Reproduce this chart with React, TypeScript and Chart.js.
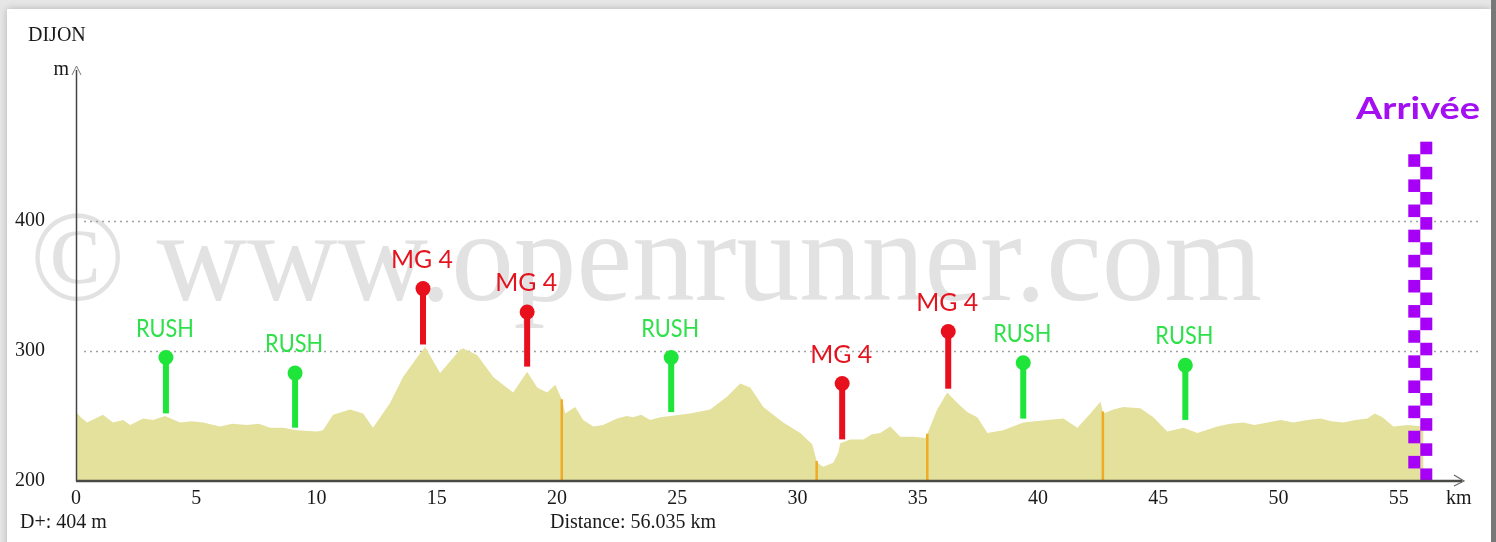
import React, { useEffect, useRef } from "react";
import { Chart, registerables } from "chart.js";
Chart.register(...registerables);

// ---- data ----
const distanceKm = [
  0, 0.2, 0.46, 0.8, 1.12, 1.54, 1.96, 2.25, 2.79, 3.2, 3.7, 4.33, 4.8, 5.28, 5.99, 6.5, 7.11, 7.6, 8.07, 8.6, 9.19, 10.02, 10.27,
  10.69, 11.4, 11.94, 12.35, 13.06, 13.6, 14.18, 14.52, 15.14, 15.97, 16.1, 16.68, 17.35, 17.76,
  18.18, 18.76, 19.18, 19.59, 19.93, 20.22, 20.34, 20.76, 21.09, 21.51, 21.92, 22.5, 22.9, 23.17, 23.5, 23.88,
  24.3, 24.71, 25.54, 26.37, 27.08, 27.62, 28.04, 28.58, 29.41, 30.12, 30.62, 30.82, 31.07, 31.49, 31.7,
  31.78, 32.2, 32.74, 33.1, 33.44, 33.86, 34.28, 34.82, 35.32, 35.44, 35.81, 36.23, 36.65, 37.06, 37.48,
  37.9, 38.56, 39.39, 40.39, 41.06, 41.64, 42.18, 42.6, 42.72, 43.14, 43.55, 44.26, 44.8, 45.38,
  46.05, 46.63, 47.46, 48.0, 48.54, 49.0, 49.54, 50.1, 50.62, 51.2, 51.75, 52.2, 52.7, 53.2, 53.7, 54.0, 54.33, 54.78, 55.37, 56.035,
];
const elevationM = [
  253, 249, 245, 248, 251, 245, 247, 243, 248, 247, 250, 245, 246, 245, 242, 244, 243, 244, 241, 241, 239, 238, 239,
  251, 255, 252, 241, 260, 280, 295, 303, 283, 301, 302, 297, 280, 274,
  268, 284, 272, 268, 274, 262, 252, 257, 247, 242, 243, 248, 250, 249, 251, 247,
  249, 250, 252, 255, 265, 275, 272, 257, 245, 237, 228, 214, 211, 214, 222,
  229, 232, 232, 236, 237, 242, 234, 234, 233, 238, 255, 268, 260, 253, 249,
  237, 239, 245, 247, 248, 241, 252, 261, 252, 255, 257, 256, 249, 238,
  241, 237, 242, 244, 245, 243, 245, 247, 245, 247, 248, 246, 245, 247, 248, 252, 249, 242, 243, 242,
];

const xTickValues = [0, 5, 10, 15, 20, 25, 30, 35, 40, 45, 50, 55];
const xTickLabels = ["0", "5", "10", "15", "20", "25", "30", "35", "40", "45", "50", "55"];
const yTickValues = [200, 300, 400];
const yTickLabels = ["200", "300", "400"];

const markerKm = [3.74, 9.11, 14.43, 18.76, 24.75, 31.86, 36.27, 39.39, 46.13];
const markerLabels = ["RUSH", "RUSH", "MG 4", "MG 4", "RUSH", "MG 4", "MG 4", "RUSH", "RUSH"];
const markerHeadM = [295, 283, 348, 330, 295, 275, 315, 291, 289];
const markerBaseM = [252, 241, 305, 288, 253, 232, 271, 248, 247];

const segmentKm = [20.2, 30.8, 35.4, 42.7];
const finishKm = 55.9;
const finishTopM = 461;
const finishLabel = "Arrivée";

const startLabel = "DIJON";
const yUnit = "m";
const xUnit = "km";
const climbText = "D+: 404 m";
const distanceText = "Distance: 56.035 km";
const watermark = "© www.openrunner.com";

// ---- helpers ----
function interp(km: number): number {
  for (let i = 1; i < distanceKm.length; i++) {
    if (km <= distanceKm[i]) {
      const t = (km - distanceKm[i - 1]) / (distanceKm[i] - distanceKm[i - 1]);
      return elevationM[i - 1] + t * (elevationM[i] - elevationM[i - 1]);
    }
  }
  return elevationM[elevationM.length - 1];
}

function fitText(ctx: CanvasRenderingContext2D, text: string, cx: number, baseline: number, width: number) {
  const w = ctx.measureText(text).width;
  const s = width / w;
  ctx.save();
  ctx.translate(cx, baseline);
  ctx.scale(s, 1);
  ctx.textAlign = "center";
  ctx.textBaseline = "alphabetic";
  ctx.fillText(text, 0, 0);
  ctx.restore();
}

const SERIF = "'Liberation Serif', 'DejaVu Serif', serif";

const decorPlugin = {
  id: "decor",
  beforeDraw(chart: any) {
    const { ctx, width, height } = chart;
    ctx.save();
    ctx.fillStyle = "#e6e6e6";
    ctx.fillRect(0, 0, width, height);
    ctx.shadowColor = "rgba(0,0,0,0.22)";
    ctx.shadowBlur = 7;
    ctx.fillStyle = "#ffffff";
    ctx.fillRect(7, 9, 1484, 560);
    ctx.shadowBlur = 0;
    ctx.fillStyle = "#787878";
    ctx.fillRect(1491, 0, 5, height);
    ctx.restore();
  },
  beforeDatasetsDraw(chart: any) {
    const { ctx } = chart;
    const y = chart.scales.y;
    ctx.save();
    ctx.fillStyle = "#e2e2e2";
    ctx.font = `130px ${SERIF}`;
    const w = ctx.measureText(watermark).width;
    ctx.translate(30, 300);
    ctx.scale(1232 / w, 1);
    ctx.textAlign = "left";
    ctx.fillText(watermark, 0, 0);
    ctx.restore();
    ctx.save();
    ctx.strokeStyle = "#a0a0a0";
    ctx.lineWidth = 1.5;
    ctx.setLineDash([2, 4]);
    yTickValues.forEach((v) => {
      if (v === yTickValues[0]) return;
      const py = Math.round(y.getPixelForValue(v)) + 0.5;
      ctx.beginPath();
      ctx.moveTo(84, py);
      ctx.lineTo(1478, py);
      ctx.stroke();
    });
    ctx.restore();
  },
  afterDatasetsDraw(chart: any) {
    const { ctx, chartArea } = chart;
    const x = chart.scales.x;
    const y = chart.scales.y;
    const bottom = y.getPixelForValue(200);
    const left = chartArea.left;

    ctx.save();
    ctx.strokeStyle = "rgba(240,165,25,0.9)";
    ctx.lineWidth = 2.5;
    segmentKm.forEach((k) => {
      const px = x.getPixelForValue(k);
      ctx.beginPath();
      ctx.moveTo(px, y.getPixelForValue(interp(k)));
      ctx.lineTo(px, bottom);
      ctx.stroke();
    });
    ctx.restore();

    // finish checkered column
    ctx.save();
    const fx = x.getPixelForValue(finishKm);
    const top = y.getPixelForValue(finishTopM);
    const rows = 27;
    const rh = (bottom - top) / rows;
    ctx.fillStyle = "#a700f7";
    for (let r = 0; r < rows; r++) {
      const ry = bottom - (r + 1) * rh;
      const right = r % 2 === 0;
      ctx.fillRect(right ? fx : fx - 12, ry, 12, rh);
    }
    ctx.font = `bold 30px Lato, 'Noto Sans', sans-serif`;
    ctx.fillStyle = "#a30ff0";
    fitText(ctx, finishLabel, 1418, 119, 124);
    ctx.restore();

    // axes
    ctx.save();
    ctx.strokeStyle = "#444";
    ctx.lineWidth = 1.5;
    ctx.beginPath();
    ctx.moveTo(left + 0.5, bottom);
    ctx.lineTo(left + 0.5, 70);
    ctx.stroke();
    ctx.strokeStyle = "#777";
    ctx.lineWidth = 1;
    ctx.beginPath();
    ctx.moveTo(left - 4, 75);
    ctx.lineTo(left + 0.5, 66);
    ctx.lineTo(left + 5, 75);
    ctx.stroke();
    ctx.strokeStyle = "#4a4a44";
    ctx.lineWidth = 2.5;
    ctx.beginPath();
    ctx.moveTo(left, bottom);
    ctx.lineTo(1462, bottom);
    ctx.stroke();
    ctx.strokeStyle = "#666";
    ctx.lineWidth = 1.2;
    ctx.beginPath();
    ctx.moveTo(1454, bottom - 6);
    ctx.lineTo(1464, bottom);
    ctx.lineTo(1454, bottom + 5);
    ctx.stroke();
    ctx.restore();

    // pins
    ctx.save();
    markerKm.forEach((k, i) => {
      const isRush = markerLabels[i] === "RUSH";
      const color = isRush ? "#1fe53a" : "#e8101c";
      const px = x.getPixelForValue(k);
      const hy = y.getPixelForValue(markerHeadM[i]);
      const by = y.getPixelForValue(markerBaseM[i]);
      ctx.fillStyle = color;
      ctx.fillRect(px - 3, hy, 6, by - hy);
      ctx.beginPath();
      ctx.arc(px, hy, 7.5, 0, Math.PI * 2);
      ctx.fill();
      ctx.font = `25px Lato, 'Noto Sans', sans-serif`;
      ctx.fillStyle = isRush ? "#2ee04a" : "#e4141f";
      fitText(ctx, markerLabels[i], px - 1, hy - 21, isRush ? 58 : 62);
    });
    ctx.restore();

    // texts
    ctx.save();
    ctx.fillStyle = "#1a1a1a";
    ctx.font = `20px ${SERIF}`;
    ctx.textBaseline = "alphabetic";
    ctx.textAlign = "left";
    ctx.fillText(startLabel, 28, 41);
    ctx.fillText(climbText, 20, 528);
    ctx.fillText(distanceText, 550, 528);
    ctx.fillText(xUnit, 1446, 504);
    ctx.textAlign = "right";
    ctx.fillText(yUnit, 69, 75);
    ctx.restore();
  },
};

export default function App() {
  const ref = useRef<HTMLCanvasElement>(null);
  useEffect(() => {
    if (!ref.current) return;
    const chart = new Chart(ref.current, {
      type: "line",
      data: {
        datasets: [
          {
            data: distanceKm.map((d, i) => ({ x: d, y: elevationM[i] })),
            fill: "start",
            backgroundColor: "#e4e19c",
            borderWidth: 0,
            pointRadius: 0,
            tension: 0,
          },
        ],
      },
      options: {
        responsive: false,
        animation: false,
        events: [],
        layout: { padding: { top: 71.5, right: 18, left: 0, bottom: 0 } },
        plugins: { legend: { display: false }, tooltip: { enabled: false } },
        scales: {
          x: {
            type: "linear",
            min: 0,
            max: 58.3,
            grid: { display: false, drawTicks: false },
            border: { display: false },
            afterFit: (s: any) => {
              s.height = 61;
            },
            afterBuildTicks: (s: any) => {
              s.ticks = xTickValues.map((v) => ({ value: v }));
            },
            ticks: {
              autoSkip: false,
              maxRotation: 0,
              padding: 6,
              color: "#1a1a1a",
              font: { family: SERIF, size: 20 },
              callback: (v: any) => xTickLabels[xTickValues.indexOf(Number(v))],
            },
          },
          y: {
            min: 200,
            max: 515,
            grid: { display: false, drawTicks: false },
            border: { display: false },
            afterFit: (s: any) => {
              s.width = 76;
            },
            afterBuildTicks: (s: any) => {
              s.ticks = yTickValues.map((v) => ({ value: v }));
            },
            ticks: {
              padding: 31,
              color: "#1a1a1a",
              font: { family: SERIF, size: 20 },
              callback: (v: any) => yTickLabels[yTickValues.indexOf(Number(v))],
            },
          },
        },
      },
      plugins: [decorPlugin],
    } as any);
    return () => chart.destroy();
  }, []);
  return (
    <div style={{ position: "absolute", left: 0, top: 0, width: 1496, height: 542 }}>
      <canvas ref={ref} width={1496} height={542} style={{ display: "block" }} />
    </div>
  );
}
